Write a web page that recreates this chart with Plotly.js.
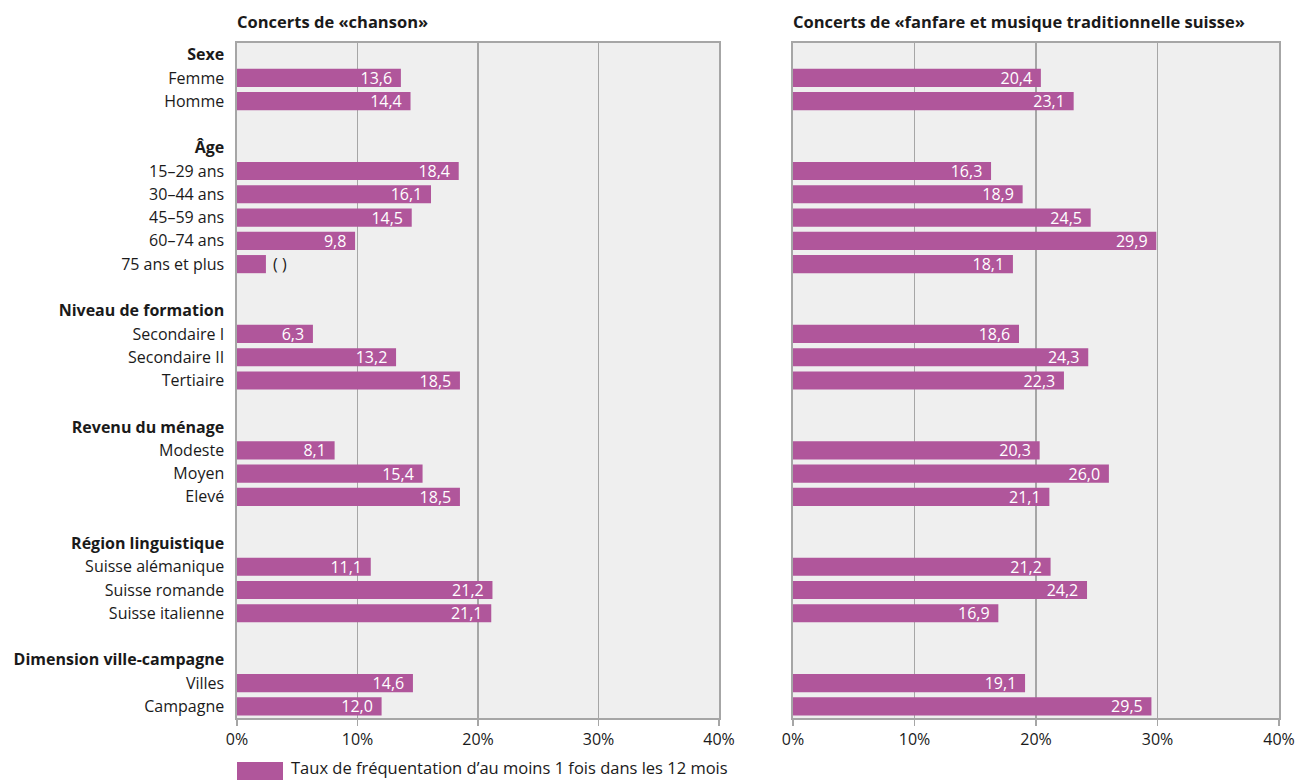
<!DOCTYPE html>
<html>
<head>
<meta charset="utf-8">
<script src="https://cdn.plot.ly/plotly-3.0.1.min.js"></script>
<style>
html,body{margin:0;padding:0;background:#fff;}
#chart{width:1298px;height:780px;}
</style>
</head>
<body>
<div id="chart"></div>
<script>
const rowLabels = ['Sexe','Femme','Homme','',
  'Âge','15–29 ans','30–44 ans','45–59 ans','60–74 ans','75 ans et plus','',
  'Niveau de formation','Secondaire I','Secondaire II','Tertiaire','',
  'Revenu du ménage','Modeste','Moyen','Elevé','',
  'Région linguistique','Suisse alémanique','Suisse romande','Suisse italienne','',
  'Dimension ville-campagne','Villes','Campagne'];
const groupHeaders = ['Sexe','Âge','Niveau de formation','Revenu du ménage','Région linguistique','Dimension ville-campagne'];

const chansonValues = [null,13.6,14.4,null,
  null,18.4,16.1,14.5,9.8,2.4,null,
  null,6.3,13.2,18.5,null,
  null,8.1,15.4,18.5,null,
  null,11.1,21.2,21.1,null,
  null,14.6,12.0];
// rows whose estimate is not reliable (shown as "( )")
const chansonUnreliable = [9];

const fanfareValues = [null,20.4,23.1,null,
  null,16.3,18.9,24.5,29.9,18.1,null,
  null,18.6,24.3,22.3,null,
  null,20.3,26.0,21.1,null,
  null,21.2,24.2,16.9,null,
  null,19.1,29.5];

const xTickVals = [0,10,20,30,40];
const xTickText = ['0%','10%','20%','30%','40%'];
const panelTitles = ['Concerts de «chanson»','Concerts de «fanfare et musique traditionnelle suisse»'];
const legendLabel = 'Taux de fréquentation d’au moins 1 fois dans les 12 mois';

const barColor = '#b0569b';
const FONT = '"Open Sans", "DejaVu Sans", sans-serif';
const W = 1298, H = 780;
const px = v => v / W;
const py = v => 1 - v / H;

const rowIdx = rowLabels.map((_, i) => i);
const tickText = rowLabels.map(l => groupHeaders.includes(l) ? '<b>' + l + '</b>' : l);
const fmt = v => v == null ? '' : v.toFixed(1).replace('.', ',');

function makeTrace(values, unreliable, xa, ya) {
  const text = values.map((v, i) => unreliable.includes(i) ? '\u00a0( )' : (v == null ? '' : fmt(v) + '\u00a0\u200a'));
  const pos = values.map((v, i) => unreliable.includes(i) ? 'outside' : 'inside');
  const tcol = values.map((v, i) => unreliable.includes(i) ? '#1a1a1a' : '#ffffff');
  return {
    type: 'bar', orientation: 'h',
    x: values, y: rowIdx,
    xaxis: xa, yaxis: ya,
    marker: {color: barColor},
    text: text,
    textposition: pos,
    insidetextanchor: 'end',
    constraintext: 'none',
    cliponaxis: false,
    textfont: {family: FONT, size: 16, color: tcol},
    hoverinfo: 'x+y',
    showlegend: false,
    name: legendLabel
  };
}

const data = [
  makeTrace(chansonValues, chansonUnreliable, 'x', 'y'),
  makeTrace(fanfareValues, [], 'x2', 'y2')
];

const gridCol = '#a6a6a6';
const xCommon = {
  range: [0, 40], tickvals: xTickVals, ticktext: xTickText,
  showgrid: true, gridcolor: gridCol, gridwidth: 1.6,
  showline: true, mirror: true, linecolor: gridCol, linewidth: 1.6,
  ticks: 'outside', ticklen: 6, tickcolor: gridCol, tickwidth: 1.6,
  tickfont: {family: FONT, size: 16, color: '#1a1a1a'},
  zeroline: false, fixedrange: true
};
const yDomain = [py(718), py(43)];
const yCommon = {
  domain: yDomain, range: [28.5, -0.5],
  tickvals: rowIdx, ticktext: tickText,
  showgrid: false, zeroline: false, ticks: '',
  showline: true, mirror: true, linecolor: gridCol, linewidth: 1.6,
  tickfont: {family: FONT, size: 16, color: '#1a1a1a'},
  ticklabelstandoff: 8,
  fixedrange: true
};

const layout = {
  width: W, height: H,
  margin: {l: 0, r: 0, t: 0, b: 0},
  paper_bgcolor: '#ffffff',
  plot_bgcolor: '#efefef',
  bargap: 0.22,
  showlegend: false,
  font: {family: FONT, size: 16, color: '#1a1a1a'},
  xaxis: Object.assign({}, xCommon, {domain: [px(237), px(719)], anchor: 'y'}),
  xaxis2: Object.assign({}, xCommon, {domain: [px(793), px(1279)], anchor: 'y2'}),
  yaxis: Object.assign({}, yCommon, {anchor: 'x'}),
  yaxis2: Object.assign({}, yCommon, {anchor: 'x2', showticklabels: false}),
  annotations: [
    {xref: 'paper', yref: 'paper', x: px(235), y: py(21), xanchor: 'left', yanchor: 'middle',
     text: '<b>' + panelTitles[0] + '</b>', showarrow: false, font: {family: FONT, size: 16.5, color: '#1a1a1a'}},
    {xref: 'paper', yref: 'paper', x: px(791), y: py(21), xanchor: 'left', yanchor: 'middle',
     text: '<b>' + panelTitles[1] + '</b>', showarrow: false, font: {family: FONT, size: 16.5, color: '#1a1a1a'}},
    {xref: 'paper', yref: 'paper', x: px(289), y: py(767), xanchor: 'left', yanchor: 'middle',
     text: legendLabel, showarrow: false, font: {family: FONT, size: 16.5, color: '#1a1a1a'}}
  ],
  shapes: [
    {type: 'rect', xref: 'paper', yref: 'paper', x0: px(237), x1: px(283), y0: py(780), y1: py(762),
     fillcolor: barColor, line: {width: 0}}
  ]
};

Plotly.newPlot('chart', data, layout, {displayModeBar: false, staticPlot: true});
</script>
</body>
</html>
